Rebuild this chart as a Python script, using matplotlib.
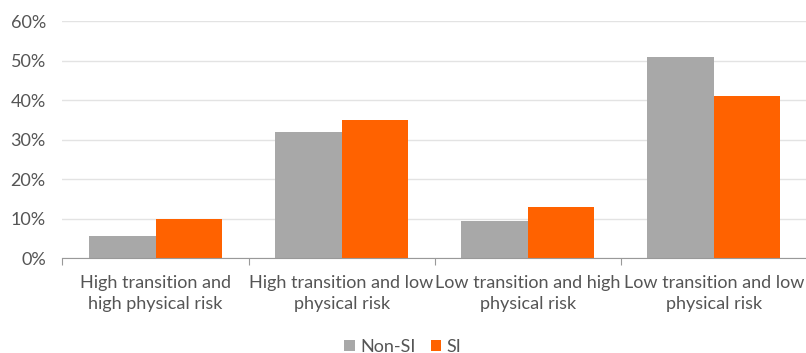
import matplotlib
matplotlib.use("Agg")
import matplotlib.pyplot as plt
import numpy as np
from matplotlib.ticker import FixedLocator, PercentFormatter

categories = ["High transition and\nhigh physical risk",
              "High transition and low\nphysical risk",
              "Low transition and high\nphysical risk",
              "Low transition and low\nphysical risk"]
non_si = [5.5, 32, 9.5, 51]
si = [10, 35, 13, 41]
series_names = ["Non-SI", "SI"]
yticks = [0, 10, 20, 30, 40, 50, 60]

plt.rcParams['font.family'] = ['Lato', 'DejaVu Sans']
text_color = "#555555"
gray = "#A8A8A8"
orange = "#FF6200"

fig = plt.figure(figsize=(8.06, 3.53), dpi=100)
ax = fig.add_axes([0.0775, 0.269, 0.9235, 0.6715])

x = np.arange(len(categories))
w = 0.357
ax.bar(x - w/2, non_si, width=w, color=gray, label=series_names[0], zorder=3)
ax.bar(x + w/2, si, width=w, color=orange, label=series_names[1], zorder=3)

ax.set_xlim(-0.5, len(categories) - 0.5)
ax.set_ylim(0, 60)
ax.set_yticks(yticks)
ax.yaxis.set_major_formatter(PercentFormatter(decimals=0))
ax.grid(axis='y', color="#E3E3E3", linewidth=1, zorder=0)

for s in ["left", "right", "top"]:
    ax.spines[s].set_visible(False)
ax.spines["bottom"].set_color("#999999")
ax.spines["bottom"].set_zorder(4)

ax.tick_params(axis='y', length=0, labelsize=13, labelcolor=text_color, pad=12)
ax.xaxis.set_major_locator(FixedLocator(np.arange(-0.5, len(categories), 1.0)))
ax.xaxis.set_minor_locator(FixedLocator(x))
ax.tick_params(axis='x', which='major', length=5, color="#999999", labelbottom=False)
ax.tick_params(axis='x', which='minor', length=0, pad=12.5)
ax.set_xticks(x, categories, minor=True)
for lbl in ax.get_xticklabels(minor=True):
    lbl.set_fontsize(13)
    lbl.set_color(text_color)
    lbl.set_linespacing(1.32)

leg = fig.legend(loc='center', bbox_to_anchor=(0.5, 0.018), ncol=2, frameon=False,
                 fontsize=13, handlelength=0.6, handleheight=0.6, handletextpad=0.3,
                 columnspacing=0.8, labelcolor=text_color)

fig.savefig("out.png", dpi=100)
